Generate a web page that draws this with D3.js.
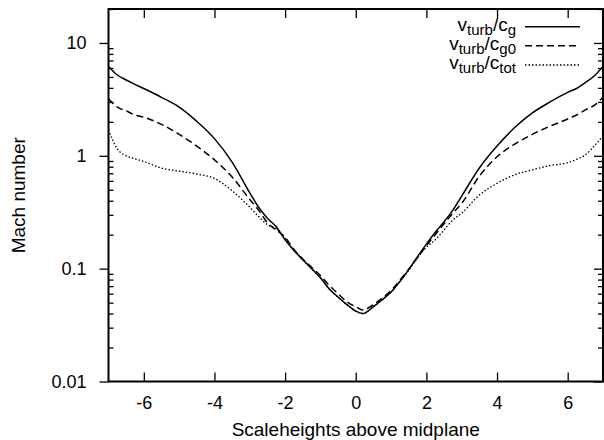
<!DOCTYPE html>
<html><head><meta charset="utf-8">
<script src="https://cdn.jsdelivr.net/npm/d3@7"></script>
<style>body{margin:0;background:#fff}svg{display:block}text{font-family:"Liberation Sans",Arial,sans-serif;fill:#000}</style>
</head><body><svg id="c" width="604" height="440"></svg>
<script>
const heights = [-7,-6.75,-6.5,-6.25,-6,-5.5,-5,-4.5,-4,-3.5,-3,-2.75,-2.5,-2.25,-2,-1.75,-1.5,-1.25,-1,-0.75,-0.5,-0.25,0,0.2,0.5,0.75,1,1.25,1.5,1.75,2,2.25,2.5,2.75,3,3.5,4,4.5,5,5.5,6,6.25,6.5,6.75,7];
const machGas = [6.2,5.2,4.7,4.3,3.95,3.3,2.7,2.02,1.42,0.88,0.47,0.35,0.28,0.235,0.18,0.145,0.12,0.1,0.083,0.066,0.056,0.048,0.042,0.040,0.046,0.053,0.062,0.077,0.098,0.128,0.165,0.21,0.26,0.33,0.44,0.78,1.22,1.78,2.4,3.0,3.65,3.95,4.45,5.1,6.2];
const machGas0 = [3.2,2.7,2.5,2.3,2.2,1.9,1.55,1.22,0.92,0.65,0.41,0.33,0.255,0.22,0.19,0.148,0.122,0.103,0.087,0.071,0.06,0.051,0.046,0.043,0.048,0.055,0.064,0.079,0.099,0.126,0.16,0.2,0.25,0.31,0.38,0.66,0.98,1.27,1.55,1.83,2.12,2.3,2.55,2.8,3.3];
const machTot = [1.7,1.15,1.0,0.94,0.89,0.78,0.73,0.69,0.63,0.49,0.35,0.29,0.245,0.225,0.185,0.146,0.12,0.1,0.083,0.066,0.056,0.048,0.042,0.040,0.046,0.053,0.062,0.077,0.097,0.125,0.155,0.18,0.22,0.27,0.31,0.45,0.57,0.68,0.75,0.82,0.87,0.93,1.02,1.22,1.5];
const xTicks = [-6,-4,-2,0,2,4,6];
const xTickLabels = ["-6","-4","-2","0","2","4","6"];
const yTicks = [0.01,0.1,1,10];
const yTickLabels = ["0.01","0.1","1","10"];
const legendLabels = [["v","turb","/c","g"],["v","turb","/c","g0"],["v","turb","/c","tot"]];

const L=108.5, R=603, T=9, B=381.5;
const svg = d3.select("#c");
const x = d3.scaleLinear().domain([-7,7]).range([L,R]);
const y = d3.scaleLog().domain([0.01,20]).range([B,T]);

const minor = [];
[0.01,0.1,1,10].forEach(d=>{for(let k=2;k<=9;k++){const v=d*k; if(v<=20) minor.push(v);}});

const g = svg.append("g");
const axL = d3.axisLeft(y).tickValues(yTicks).tickFormat((d,i)=>yTickLabels[i]).tickSize(9).tickPadding(13);
const gl = g.append("g").attr("transform",`translate(${L},0)`).call(axL);
g.append("g").attr("transform",`translate(${R},0)`).call(d3.axisRight(y).tickValues(yTicks).tickFormat("").tickSize(-9));
g.append("g").attr("transform",`translate(${L},0)`).call(d3.axisLeft(y).tickValues(minor).tickFormat("").tickSize(-5));
g.append("g").attr("transform",`translate(${R},0)`).call(d3.axisRight(y).tickValues(minor).tickFormat("").tickSize(-5));
const axB = d3.axisBottom(x).tickValues(xTicks).tickFormat((d,i)=>xTickLabels[i]).tickSize(-9).tickPadding(16);
const gb = g.append("g").attr("transform",`translate(0,${B})`).call(axB);
g.append("g").attr("transform",`translate(0,${T})`).call(d3.axisTop(x).tickValues(xTicks).tickFormat("").tickSize(-9));
g.selectAll(".domain").remove();
g.selectAll(".tick line").attr("stroke","#000").attr("stroke-width",1.3);
gl.selectAll("text").attr("font-size",18).attr("font-family","Liberation Sans, Arial, sans-serif");
gb.selectAll("text").attr("font-size",18).attr("font-family","Liberation Sans, Arial, sans-serif").attr("dy","0.71em");
gb.selectAll(".tick text").attr("y",15);

svg.append("rect").attr("x",L).attr("y",T).attr("width",R-L).attr("height",B-T)
  .attr("fill","none").attr("stroke","#000").attr("stroke-width",2);

svg.append("defs").append("clipPath").attr("id","clip").append("rect")
  .attr("x",L).attr("y",T).attr("width",R-L).attr("height",B-T);

const line = d3.line().x((d,i)=>x(heights[i])).y(d=>y(d)).curve(d3.curveMonotoneX);
const series = [
  {v:machGas, dash:null, w:1.5},
  {v:machGas0, dash:"7,4", w:1.5},
  {v:machTot, dash:"1.5,2", w:1.3}
];
const pg = svg.append("g").attr("clip-path","url(#clip)");
series.forEach(s=>{
  pg.append("path").attr("d",line(s.v)).attr("fill","none").attr("stroke","#000")
    .attr("stroke-width",s.w).attr("stroke-dasharray",s.dash);
});

const legY = [26.7,45.7,65];
series.forEach((s,i)=>{
  svg.append("line").attr("x1",525).attr("x2",580).attr("y1",legY[i]).attr("y2",legY[i])
    .attr("stroke","#000").attr("stroke-width",s.w).attr("stroke-dasharray",s.dash);
  const t = svg.append("text").attr("x",516).attr("y",legY[i]+4).attr("text-anchor","end").attr("font-size",19);
  const p = legendLabels[i];
  t.append("tspan").text(p[0]);
  t.append("tspan").attr("font-size",15).attr("dy",4).text(p[1]);
  t.append("tspan").attr("dy",-4).text(p[2]);
  t.append("tspan").attr("font-size",15).attr("dy",4).text(p[3]);
});

svg.append("text").attr("x",(L+R)/2).attr("y",436).attr("text-anchor","middle").attr("font-size",19)
  .text("Scaleheights above midplane");
svg.append("text").attr("transform",`translate(25,${(T+B)/2}) rotate(-90)`).attr("text-anchor","middle").attr("font-size",19)
  .text("Mach number");
</script></body></html>
